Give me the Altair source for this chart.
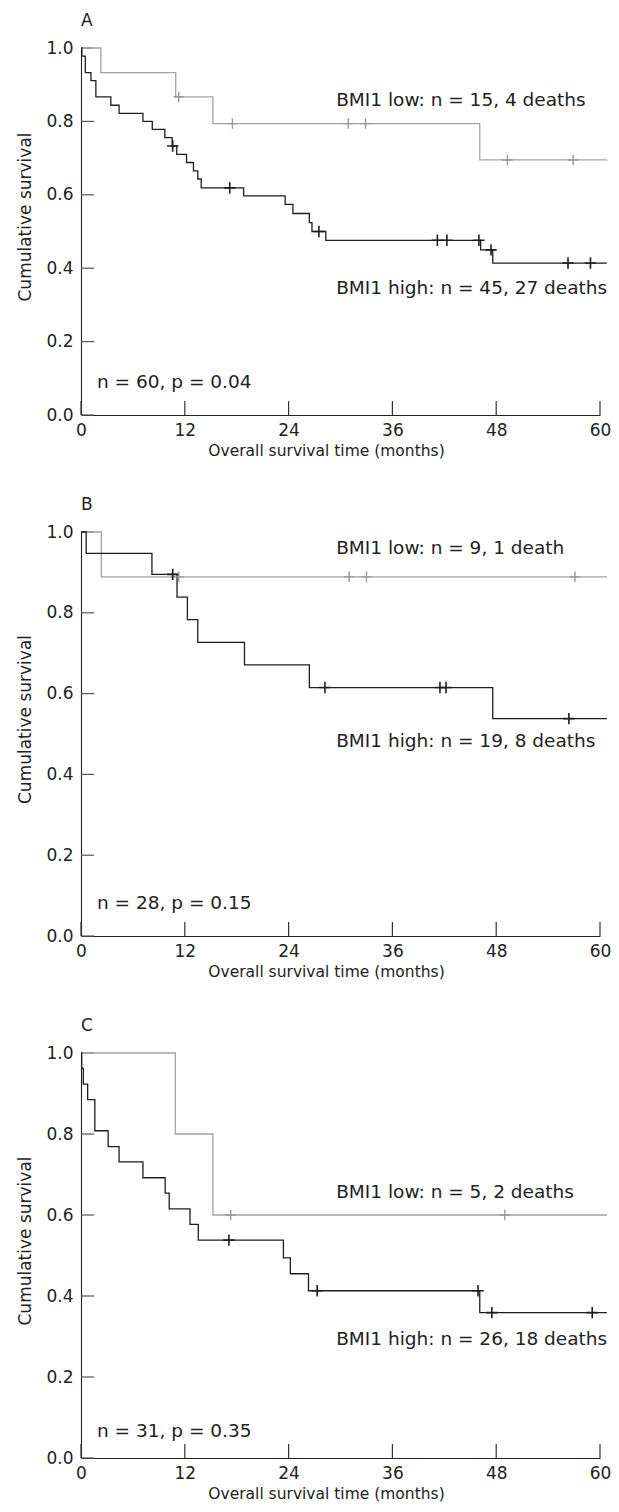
import altair as alt
import pandas as pd

FONT = "DejaVu Sans"
TXT = "#222222"
GRAY = "#a3a3a3"
BLACK = "#1e1e1e"

X_TICKS = [0, 12, 24, 36, 48, 60]
Y_TICKS = [0.0, 0.2, 0.4, 0.6, 0.8, 1.0]
X_TITLE = "Overall survival time (months)"
Y_TITLE = "Cumulative survival"

# ---------------- Panel A ----------------
A_low_t = [0, 2.3, 10.95, 15.25, 46.1, 60.8]
A_low_s = [1.0, 0.933, 0.867, 0.794, 0.695, 0.695]
A_low_ct = [11.3, 17.5, 30.9, 32.9, 49.3, 56.9]
A_low_cs = [0.867, 0.794, 0.794, 0.794, 0.695, 0.695]
A_high_t = [0, 0.1, 0.5, 1.15, 1.72, 3.45, 4.4, 7.16, 8.24, 9.69, 10.54, 11.07,
            12.2, 13.0, 13.5, 13.9, 18.8, 23.6, 24.5, 26.4, 26.7, 28.3, 46.2, 47.6, 60.8]
A_high_s = [1.0, 0.978, 0.933, 0.911, 0.867, 0.844, 0.822, 0.800, 0.778, 0.756, 0.733, 0.710,
            0.688, 0.665, 0.643, 0.619, 0.597, 0.574, 0.549, 0.524, 0.500, 0.476, 0.450, 0.414, 0.414]
A_high_ct = [10.6, 17.2, 27.5, 41.2, 42.3, 46.0, 47.4, 56.3, 58.9]
A_high_cs = [0.733, 0.619, 0.500, 0.476, 0.476, 0.476, 0.450, 0.414, 0.414]
A_labels = ["BMI1 low: n = 15, 4 deaths", "BMI1 high: n = 45, 27 deaths", "n = 60, p = 0.04"]
A_label_x = [29.5, 29.5, 1.85]
A_label_y = [0.859, 0.345, 0.091]

# ---------------- Panel B ----------------
B_low_t = [0, 2.35, 60.8]
B_low_s = [1.0, 0.889, 0.889]
B_low_ct = [11.3, 31.0, 33.0, 57.1]
B_low_cs = [0.889, 0.889, 0.889, 0.889]
B_high_t = [0, 0.6, 8.2, 11.1, 12.3, 13.5, 18.9, 26.4, 47.6, 60.8]
B_high_s = [1.0, 0.947, 0.895, 0.839, 0.783, 0.727, 0.671, 0.615, 0.538, 0.538]
B_high_ct = [10.6, 28.2, 41.5, 42.2, 56.4]
B_high_cs = [0.895, 0.615, 0.615, 0.615, 0.538]
B_labels = ["BMI1 low: n = 9, 1 death", "BMI1 high: n = 19, 8 deaths", "n = 28, p = 0.15"]
B_label_x = [29.5, 29.5, 1.85]
B_label_y = [0.961, 0.483, 0.082]

# ---------------- Panel C ----------------
C_low_t = [0, 10.9, 15.25, 60.8]
C_low_s = [1.0, 0.8, 0.6, 0.6]
C_low_ct = [17.3, 49.0]
C_low_cs = [0.6, 0.6]
C_high_t = [0, 0.08, 0.27, 0.77, 1.6, 3.14, 4.4, 7.16, 9.73, 10.2, 12.6, 13.56,
            23.4, 24.2, 26.3, 46.1, 60.8]
C_high_s = [1.0, 0.962, 0.923, 0.885, 0.808, 0.769, 0.731, 0.692, 0.654, 0.615, 0.577, 0.538,
            0.494, 0.455, 0.413, 0.359, 0.359]
C_high_ct = [17.1, 27.3, 45.9, 47.5, 59.1]
C_high_cs = [0.538, 0.413, 0.413, 0.359, 0.359]
C_labels = ["BMI1 low: n = 5, 2 deaths", "BMI1 high: n = 26, 18 deaths", "n = 31, p = 0.35"]
C_label_x = [29.5, 29.5, 1.85]
C_label_y = [0.656, 0.294, 0.067]

CROSS = "M-1,0L1,0M0,-1L0,1"
PLOT_W = 519
PX_PER_MONTH = PLOT_W / 60.0
X_SCALE = alt.Scale(domain=[0, 60], nice=False, zero=False)
Y_SCALE = alt.Scale(domain=[0, 1], nice=False)

X_AXIS = alt.Axis(
    values=X_TICKS, ticks=False, grid=False, domain=True,
    domainColor=TXT, domainWidth=1.1,
    labelFont=FONT, labelFontSize=17, labelColor=TXT, labelPadding=7,
    labelFlush=False, format="d",
    title=X_TITLE, titleFont=FONT, titleFontSize=15.5,
    titleFontWeight="normal", titleColor=TXT, titlePadding=5,
    titleX=245, titleAlign="center",
)


def y_axis(height):
    return alt.Axis(
        values=Y_TICKS, ticks=False, grid=False, domain=True,
        domainColor=TXT, domainWidth=1.1, format=".1f",
        labelFont=FONT, labelFontSize=17, labelColor=TXT, labelPadding=8,
        title=Y_TITLE, titleFont=FONT, titleFontSize=17,
        titleFontWeight="normal", titleColor=TXT, titlePadding=11,
        titleY=height / 2 - 15, titleAlign="center",
    )


def panel(letter, height, low_t, low_s, low_ct, low_cs, high_t, high_s,
          high_ct, high_cs, labels, lx, ly):
    yax = y_axis(height)

    def xe(f):
        return alt.X(f"{f}:Q", scale=X_SCALE, axis=X_AXIS)

    def ye(f):
        return alt.Y(f"{f}:Q", scale=Y_SCALE, axis=yax)

    low = pd.DataFrame({"t": low_t, "s": low_s})
    high = pd.DataFrame({"t": high_t, "s": high_s})
    lowc = pd.DataFrame({"t": low_ct, "s": low_cs})
    highc = pd.DataFrame({"t": high_ct, "s": high_cs})
    lab = pd.DataFrame({"lx": lx, "ly": ly, "label": labels})

    # inward tick marks: short two-point segments at each tick value
    ytl = 13 / PX_PER_MONTH
    xtl = 14 / height
    yt = pd.DataFrame({
        "tx": [0.0, ytl] * len(Y_TICKS),
        "ty": [v for v in Y_TICKS for _ in range(2)],
        "id": [i for i in range(len(Y_TICKS)) for _ in range(2)],
    })
    xt = pd.DataFrame({
        "tx": [t for t in X_TICKS for _ in range(2)],
        "ty": [0.0, xtl] * len(X_TICKS),
        "id": [i for i in range(len(X_TICKS)) for _ in range(2)],
        "o": [0, 1] * len(X_TICKS),
    })

    l_low = alt.Chart(low).mark_line(interpolate="step-after", color=GRAY, strokeWidth=1.3).encode(
        x=xe("t"), y=ye("s"))
    l_high = alt.Chart(high).mark_line(interpolate="step-after", color=BLACK, strokeWidth=1.3).encode(
        x=xe("t"), y=ye("s"))
    c_low = alt.Chart(lowc).mark_point(shape=CROSS, filled=False, size=110, color="#999999",
                                       strokeWidth=1.4, opacity=1).encode(
        x=xe("t"), y=ye("s"))
    c_high = alt.Chart(highc).mark_point(shape=CROSS, filled=False, size=130, color=BLACK,
                                         strokeWidth=1.6, opacity=1).encode(
        x=xe("t"), y=ye("s"))
    txt = alt.Chart(lab).mark_text(align="left", baseline="middle", font=FONT,
                                   fontSize=18.5, color=TXT).encode(
        x=xe("lx"), y=ye("ly"), text="label:N")
    yticks = alt.Chart(yt).mark_line(color="#555555", strokeWidth=1.2).encode(
        x=xe("tx"), y=ye("ty"), detail="id:N")
    xticks = alt.Chart(xt).mark_line(color="#333333", strokeWidth=1.2).encode(
        x=xe("tx"), y=ye("ty"), detail="id:N", order="o:Q")

    return alt.layer(yticks, xticks, l_low, l_high, c_low, c_high, txt).properties(
        width=PLOT_W, height=height,
        title=alt.TitleParams(letter, anchor="start", frame="group", font=FONT,
                              fontSize=17, fontWeight="normal", color=TXT, offset=9),
    )


pA = panel("A", 367, A_low_t, A_low_s, A_low_ct, A_low_cs, A_high_t, A_high_s,
           A_high_ct, A_high_cs, A_labels, A_label_x, A_label_y)
pB = panel("B", 404, B_low_t, B_low_s, B_low_ct, B_low_cs, B_high_t, B_high_s,
           B_high_ct, B_high_cs, B_labels, B_label_x, B_label_y)
pC = panel("C", 405, C_low_t, C_low_s, C_low_ct, C_low_cs, C_high_t, C_high_s,
           C_high_ct, C_high_cs, C_labels, C_label_x, C_label_y)

chart = alt.vconcat(pA, pB, pC, spacing=37).properties(
    padding={"left": 8, "top": 4, "right": 0, "bottom": 0}
).configure_view(stroke=None)

chart.save("out.html", embed_options={"renderer": "svg", "actions": False})
